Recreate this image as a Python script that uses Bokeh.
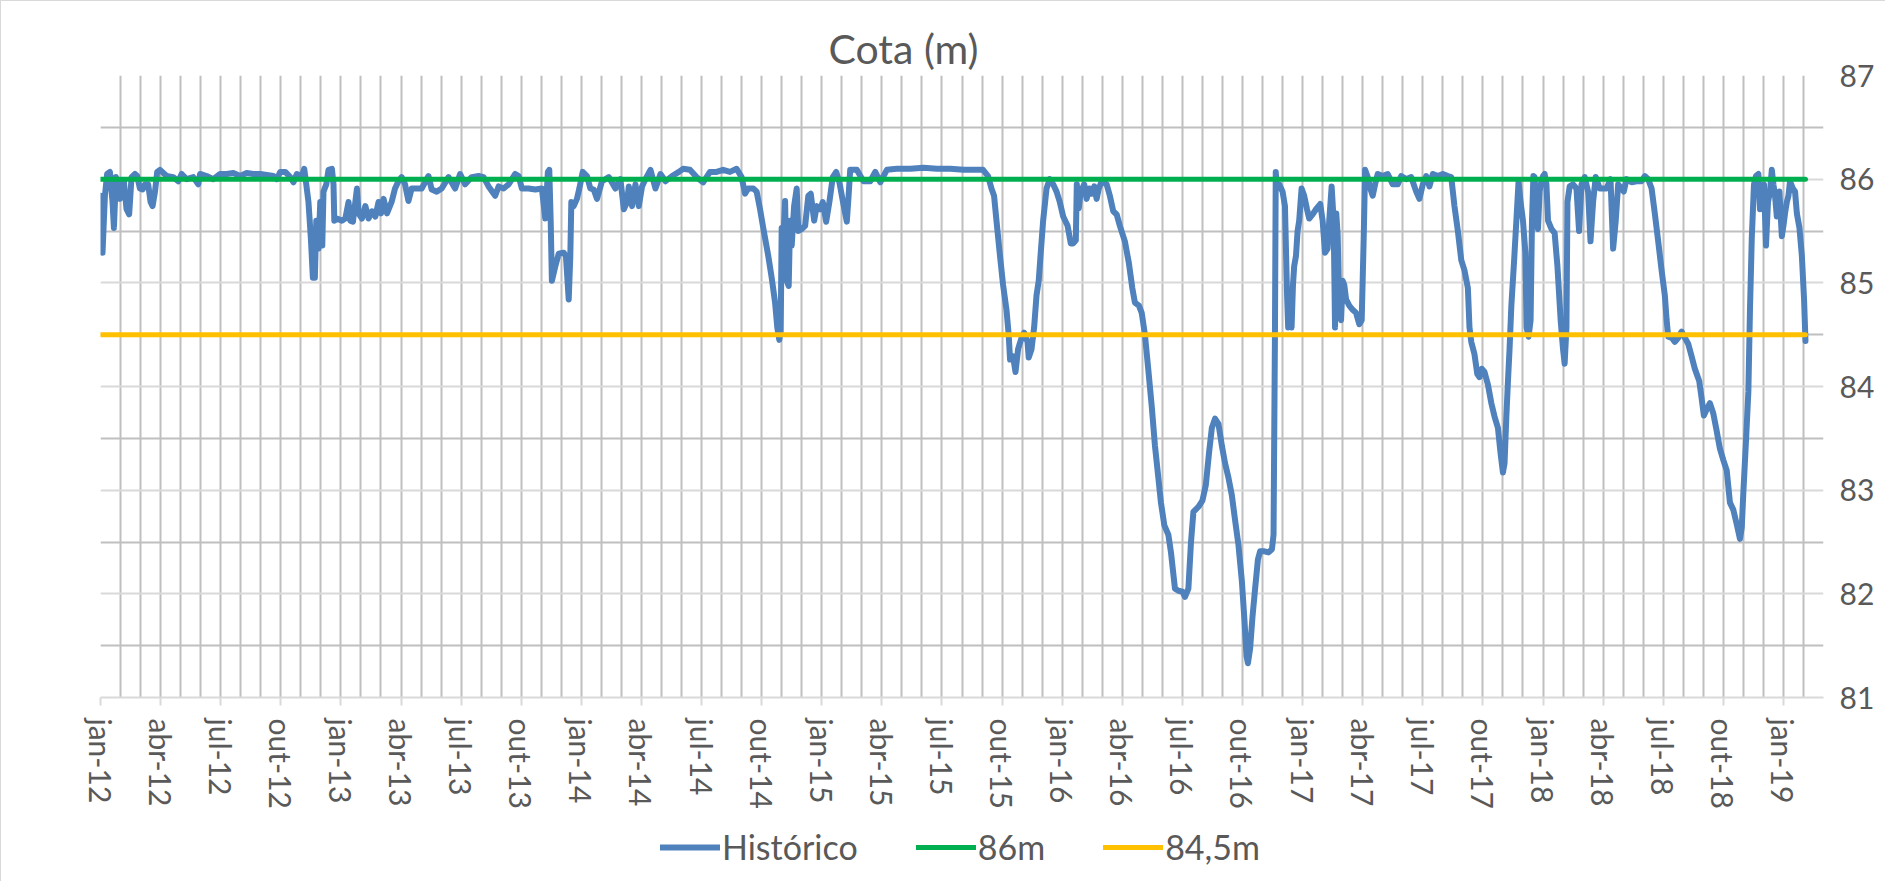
from bokeh.plotting import figure
from bokeh.layouts import column
from bokeh.models import Range1d, FixedTicker, Legend, LegendItem
from bokeh.embed import file_html
from bokeh.resources import INLINE

# ---- data: months since jan-2012 (fractional) and reservoir level (m) ----
mes_2012 = [0.00,0.10,0.22,0.33,0.47,0.60,0.67,0.77,0.88,0.97,1.05,1.17,1.30,1.43,1.55,1.72,1.83,1.97,
            2.10,2.22,2.38,2.50,2.60,2.72,2.83,2.97,3.30,3.63,3.88,4.05,4.30,4.63,4.88,4.97,5.30,5.63,5.97,
            6.30,6.63,6.97,7.30,7.63,7.97,8.30,8.63,8.80,8.97,9.22,9.47,9.63,9.80,10.05,10.17,10.27,10.38,
            10.50,10.60,10.70,10.77,10.88,10.97,11.07,11.13,11.27,11.38,11.55,11.63,11.67,11.80,12.05,12.22,
            12.38,12.47,12.60,12.72,12.80,12.88,13.05,13.22,13.38,13.55,13.72,13.88,14.00,14.13,14.30]
cota_2012 = [85.84,85.29,85.84,86.05,86.07,85.78,85.53,86.02,85.95,85.81,85.95,85.97,85.71,85.66,86.02,86.05,86.03,85.91,
             85.90,85.95,85.95,85.78,85.74,85.88,86.07,86.09,86.03,86.02,85.98,86.05,86.00,86.02,85.95,86.05,86.03,86.00,86.05,
             86.05,86.06,86.03,86.06,86.05,86.05,86.04,86.03,86.00,86.07,86.07,86.02,85.97,86.05,86.03,86.10,85.95,85.78,
             85.43,85.05,85.05,85.60,85.33,85.78,85.36,85.88,85.95,86.09,86.10,85.95,85.60,85.62,85.60,85.62,
             85.78,85.60,85.59,85.78,85.91,85.67,85.62,85.74,85.62,85.69,85.64,85.78,85.67,85.81,85.67]

mes_2013 = [14.53,14.70,14.87,15.03,15.20,15.37,15.53,15.70,16.03,16.37,16.53,16.78,17.03,17.37,17.70,17.95,
            18.20,18.53,18.87,19.12,19.37,19.70,19.87,20.12,20.37,20.70,20.87,21.03,21.37,21.70,22.03,22.20,
            22.33,22.40,22.47,22.53,22.70,22.87,23.12,23.23,23.37,23.45,23.50,23.62,23.78,23.90,24.07,24.28,
            24.45,24.62,24.78,25.03,25.37,25.70,25.95,26.12,26.28,26.37,26.53,26.70,26.87,27.03,27.20,27.45,
            27.70,27.95,28.20,28.53,28.87]
cota_2013 = [85.78,85.91,85.98,86.02,85.95,85.79,85.91,85.91,85.91,86.03,85.90,85.88,85.91,86.02,85.91,86.05,
             85.95,86.02,86.03,86.02,85.93,85.84,85.93,85.91,85.95,86.05,86.03,85.91,85.91,85.90,85.91,85.62,
             86.07,86.09,85.60,85.02,85.16,85.28,85.29,85.26,84.84,85.26,85.78,85.74,85.81,85.91,86.07,86.03,
             85.91,85.90,85.81,85.98,86.02,85.91,86.00,85.71,85.78,85.93,85.74,85.95,85.74,85.93,86.00,86.09,
             85.91,86.05,85.98,86.03,86.07]

mes_2014 = [29.08,29.42,29.75,30.08,30.42,30.75,31.08,31.42,31.75,32.00,32.17,32.33,32.58,32.75,32.92,33.08,
            33.33,33.50,33.67,33.78,33.88,33.95,34.00,34.08,34.17,34.25,34.35,34.42,34.50,34.62,34.75,34.83,
            35.00,35.17,35.33,35.45,35.62,35.75,35.92,36.05,36.22,36.38,36.55,36.72,36.88,37.05,37.25,37.33,
            37.42,37.75,38.08,38.42,38.67,38.92,39.25,39.75,40.42,41.08,41.75,42.42,43.08,43.75]
cota_2014 = [86.10,86.09,86.02,85.97,86.07,86.07,86.09,86.07,86.10,86.02,85.86,85.91,85.91,85.88,85.71,85.53,
             85.26,85.05,84.81,84.57,84.45,84.53,85.53,85.40,85.79,85.02,84.97,85.60,85.36,85.74,85.91,85.50,
             85.52,85.55,85.84,85.86,85.60,85.74,85.71,85.78,85.59,85.78,86.02,86.07,85.97,85.79,85.59,85.81,
             86.09,86.09,85.98,85.98,86.07,85.97,86.09,86.10,86.10,86.11,86.10,86.10,86.09,86.09]

mes_2015 = [44.05,44.30,44.47,44.60,44.72,44.88,45.05,45.22,45.33,45.40,45.55,45.67,45.80,45.97,46.10,46.27,
            46.33,46.47,46.60,46.72,46.83,46.93,47.05,47.22,47.38,47.55,47.72,47.88,48.05,48.27,48.43,48.55,
            48.68,48.73,48.83,48.90,49.00,49.10,49.22,49.35,49.47,49.60,49.72,49.83,49.97,50.22,50.38,50.55,
            50.72,50.88,51.13,51.33,51.50,51.63,51.83,51.97,52.13,52.30,52.47,52.63,52.80,52.93,53.10,53.30,
            53.43,53.63,53.80,54.00,54.13,54.30,54.43,54.55,54.80,55.00,55.17,55.33,55.47,55.63,55.80,55.97,
            56.13,56.30,56.47,56.63,56.80,56.97,57.10,57.20,57.27,57.38,57.50,57.63,57.77,57.88,58.10,58.30,
            58.47,58.55,58.62,58.66]
cota_2015 = [86.09,86.03,85.91,85.84,85.60,85.29,84.98,84.74,84.50,84.26,84.29,84.14,84.36,84.47,84.52,84.43,
             84.28,84.36,84.57,84.88,85.02,85.29,85.60,85.91,86.00,85.95,85.88,85.78,85.64,85.55,85.38,85.38,
             85.41,85.95,85.72,85.84,85.91,85.95,85.81,85.91,85.86,85.93,85.81,85.91,85.98,85.95,85.84,85.69,
             85.66,85.55,85.40,85.19,84.95,84.81,84.78,84.71,84.50,84.16,83.81,83.43,83.12,82.88,82.66,82.57,
             82.40,82.05,82.03,82.02,81.97,82.05,82.50,82.79,82.84,82.90,83.05,83.36,83.60,83.69,83.64,83.43,
             83.26,83.12,82.95,82.71,82.47,82.12,81.74,81.40,81.33,81.47,81.78,82.05,82.33,82.41,82.41,82.40,
             82.43,82.57,84.50,86.07]

mes_2017 = [58.72,58.83,59.00,59.12,59.22,59.28,59.38,59.45,59.52,59.58,59.67,59.75,59.83,59.95,60.08,60.22,
            60.33,60.50,60.67,60.88,61.00,61.12,61.25,61.33,61.45,61.55,61.62,61.68,61.75,61.83,61.92,62.00,
            62.08,62.17,62.33,62.50,62.67,62.83,62.95,63.05,63.12,63.25,63.38,63.50,63.62,63.75,64.00,64.25,
            64.50,64.75,64.92,65.17,65.42,65.67,65.83,66.00,66.17,66.33,66.50,66.75,67.00,67.25,67.42,67.58,
            67.75,67.92,68.08,68.25,68.33,68.42,68.58,68.72,68.83,68.95,69.08,69.25,69.42,69.58,69.75,69.88,
            70.00,70.08,70.17,70.25,70.33,70.42,70.55,70.67,70.78,70.88,71.00,71.12,71.18,71.28,71.38,71.45,
            71.52,71.58,71.67,71.75,71.83,71.92,72.00,72.08,72.17,72.25,72.42,72.58,72.72,72.88,73.00,73.08,
            73.17,73.22,73.33]
cota_2017 = [85.91,85.95,85.88,85.74,84.91,84.57,84.71,84.57,84.98,85.16,85.26,85.50,85.60,85.91,85.84,85.71,
             85.62,85.66,85.71,85.76,85.60,85.29,85.33,85.60,85.93,85.60,84.57,85.67,85.47,84.78,84.64,85.02,
             84.98,84.84,84.78,84.74,84.71,84.60,84.64,85.43,86.09,86.02,85.91,85.84,85.95,86.05,86.03,86.05,
             85.95,85.95,86.03,86.00,86.02,85.88,85.81,85.95,86.03,85.93,86.05,86.03,86.05,86.03,86.02,85.74,
             85.50,85.22,85.12,84.95,84.57,84.43,84.31,84.12,84.09,84.17,84.14,84.02,83.84,83.71,83.60,83.36,
             83.17,83.26,83.71,84.05,84.36,84.78,85.19,85.60,85.98,85.78,85.60,85.29,84.57,84.48,84.64,85.60,
             86.03,86.02,85.67,85.52,85.88,85.98,86.03,86.05,85.95,85.60,85.52,85.48,85.16,84.64,84.36,84.22,
             84.57,85.78,85.93]

mes_2018 = [73.50,73.67,73.80,73.92,74.08,74.25,74.37,74.50,74.63,74.83,75.17,75.37,75.50,75.63,75.75,75.92,
            76.03,76.17,76.42,76.67,76.92,77.08,77.25,77.42,77.58,77.75,77.92,78.08,78.17,78.25,78.42,78.58,
            78.75,78.92,79.08,79.25,79.42,79.58,79.80,79.92,80.03,80.17,80.33,80.50,80.67,80.83,81.00,81.17,
            81.33,81.50,81.67,81.83,81.92,82.00,82.13,82.25,82.33,82.42,82.53,82.63,82.75,82.83,82.92,83.03,
            83.13,83.23,83.33,83.42,83.50,83.58,83.67,83.80,83.92,84.00,84.08,84.17,84.25,84.33,84.47,84.58,
            84.67,84.80,84.92,85.03,85.10]
cota_2018 = [85.95,85.91,85.50,85.95,86.02,85.88,85.40,85.78,86.02,85.91,85.91,86.00,85.33,85.60,85.95,85.91,
             85.88,86.00,85.97,85.98,85.98,86.03,86.00,85.91,85.67,85.40,85.12,84.88,84.64,84.48,84.47,84.43,
             84.47,84.53,84.47,84.41,84.29,84.17,84.05,83.88,83.72,83.78,83.84,83.74,83.57,83.40,83.29,83.19,
             82.88,82.81,82.67,82.53,82.64,82.98,83.47,83.95,84.74,85.43,85.95,86.03,86.05,85.71,85.91,85.95,
             85.36,85.78,85.88,86.09,85.95,85.84,85.64,85.88,85.45,85.55,85.67,85.78,85.84,85.98,85.91,85.88,
             85.67,85.53,85.26,84.84,84.44]

limite_86 = 86.0
limite_845 = 84.5
tick_meses = [0, 3, 6, 9, 12, 15, 18, 21, 24, 27, 30, 33, 36, 39, 42, 45, 48, 51, 54, 57,
              60, 63, 66, 69, 72, 75, 78, 81, 84]
tick_labels = ["jan-12", "abr-12", "jul-12", "out-12", "jan-13", "abr-13", "jul-13", "out-13",
               "jan-14", "abr-14", "jul-14", "out-14", "jan-15", "abr-15", "jul-15", "out-15",
               "jan-16", "abr-16", "jul-16", "out-16", "jan-17", "abr-17", "jul-17", "out-17",
               "jan-18", "abr-18", "jul-18", "out-18", "jan-19"]
serie_labels = ["Histórico", "86m", "84,5m"]
serie_cores = ["#4f81bd", "#00b050", "#ffc000"]

meses = mes_2012 + mes_2013 + mes_2014 + mes_2015 + mes_2017 + mes_2018
cota = cota_2012 + cota_2013 + cota_2014 + cota_2015 + cota_2017 + cota_2018

FONT = "Lato"
TXT = "#595959"

# ---------------- main chart ----------------
p = figure(width=1884, height=812, output_backend="svg", toolbar_location=None,
           x_range=Range1d(0, 86), y_range=Range1d(81, 87), y_axis_location="right",
           min_border_left=99, min_border_right=62, min_border_top=74, min_border_bottom=116,
           title="Cota (m)")
p.outline_line_color = None
p.background_fill_color = "white"
p.border_fill_color = "white"

p.title.align = "left"
p.title.offset = 728
p.title.standoff = 5
p.title.text_font = FONT
p.title.text_font_size = "41px"
p.title.text_font_style = "normal"
p.title.text_color = TXT

p.xgrid.ticker = FixedTicker(ticks=list(range(0, 87)))
p.xgrid.grid_line_color = "#bfbfbf"
p.xgrid.grid_line_width = 2
p.ygrid.ticker = FixedTicker(ticks=[81, 82, 83, 84, 85, 86, 87],
                             minor_ticks=[81.5, 82.5, 83.5, 84.5, 85.5, 86.5])
p.ygrid.grid_line_color = "#d9d9d9"
p.ygrid.grid_line_width = 2
p.ygrid.minor_grid_line_color = "#bfbfbf"
p.ygrid.minor_grid_line_width = 2

xa = p.xaxis[0]
xa.ticker = FixedTicker(ticks=tick_meses)
xa.major_label_overrides = {t: l for t, l in zip(tick_meses, tick_labels)}
xa.major_label_orientation = "vertical"
xa.axis_line_color = "#d9d9d9"
xa.axis_line_width = 2
xa.major_tick_line_color = "#d9d9d9"
xa.major_tick_line_width = 2
xa.major_tick_out = 8
xa.major_tick_in = 0
xa.minor_tick_line_color = None
xa.major_label_text_font = FONT
xa.major_label_text_font_size = "30px"
xa.major_label_text_color = TXT
xa.major_label_standoff = 13

ya = p.yaxis[0]
ya.ticker = FixedTicker(ticks=[81, 82, 83, 84, 85, 86, 87])
ya.axis_line_color = None
ya.major_tick_line_color = None
ya.major_tick_out = 0
ya.major_tick_in = 0
ya.minor_tick_line_color = None
ya.minor_tick_out = 0
ya.major_label_text_font = FONT
ya.major_label_text_font_size = "30px"
ya.major_label_text_color = TXT
ya.major_label_standoff = 16

p.line(meses, cota, line_color=serie_cores[0], line_width=6,
       line_join="round", line_cap="round")
x_lim = [meses[0], meses[-1]]
p.line(x_lim, [limite_86, limite_86], line_color=serie_cores[1], line_width=5, line_cap="round")
p.line(x_lim, [limite_845, limite_845], line_color=serie_cores[2], line_width=5, line_cap="round")

# ---------------- legend strip ----------------
leg = figure(width=1884, height=68, output_backend="svg", toolbar_location=None,
             x_range=Range1d(0, 1), y_range=Range1d(0, 1),
             x_axis_location=None, y_axis_location=None,
             min_border_left=0, min_border_right=0, min_border_top=0, min_border_bottom=0)
leg.outline_line_color = None
leg.grid.visible = False
leg.background_fill_color = "white"
leg.border_fill_color = "white"

items = []
for lab, cor, lw in zip(serie_labels, serie_cores, [6, 5, 5]):
    # sample glyph only (kept outside the visible range of the legend strip)
    r = leg.line(x=[-10, -9], y=[-10, -10], line_color=cor, line_width=lw, line_cap="round")
    items.append(LegendItem(label=lab, renderers=[r]))

legend = Legend(items=items, orientation="horizontal", location=(560, 14),
                padding=0, margin=0, spacing=58, label_standoff=2,
                glyph_width=60, glyph_height=40, label_height=40,
                label_text_font=FONT, label_text_font_size="34px", label_text_color=TXT,
                border_line_color=None, background_fill_alpha=0)
leg.add_layout(legend, "center")

layout = column(p, leg, spacing=0,
                styles={"border-left": "1px solid #d9d9d9", "border-top": "1px solid #d9d9d9"})

open("out.html", "w").write(file_html(layout, INLINE))
